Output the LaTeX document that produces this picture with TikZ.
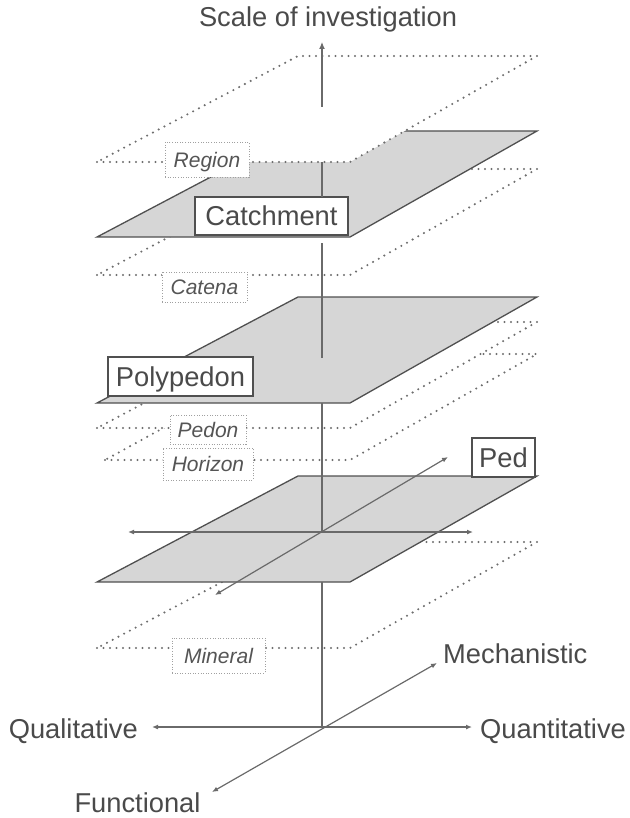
\documentclass[tikz,border=0pt]{standalone}
\usepackage{fontspec}
\setmainfont{Liberation Sans}
\usetikzlibrary{arrows.meta}
\definecolor{txt}{HTML}{4A4A4A}
\definecolor{smalltxt}{HTML}{555555}
\definecolor{axisc}{HTML}{6A6A6A}
\definecolor{edgec}{HTML}{505050}
\definecolor{planefill}{HTML}{D6D6D6}
\definecolor{dotc}{HTML}{6E6E6E}
\definecolor{boxdot}{HTML}{A0A0A0}
\newcommand{\layerplane}[3][97]{\path[#2] (#1,#3) -- (350,#3) -- (537,#3-106) -- (298,#3-106) -- cycle;}
\begin{document}
\begin{tikzpicture}[x=1pt,y=-1pt,
  solidplane/.style={draw=edgec,line width=1.3pt,fill=planefill,line join=miter},
  dotplane/.style={draw=dotc,fill=white,line width=2.3pt,dash pattern=on 0pt off 6.5pt,line cap=round},
  axisline/.style={draw=axisc,line width=1.2pt},
  onetip/.style={-{Latex[length=7pt,width=6pt]}},
  twotips/.style={{Latex[length=6pt,width=5pt]}-{Latex[length=6pt,width=5pt]}},
  bigtext/.style={font=\fontsize{27.3}{32}\selectfont,text=txt,inner sep=0pt},
  bigbox/.style={draw=edgec,line width=1.3pt,fill=white,inner sep=0pt,
    font=\fontsize{27.3}{32}\selectfont,text=txt,text height=19.6pt,text depth=0pt},
  smallbox/.style={draw=boxdot,line width=1pt,dash pattern=on 1pt off 1.6pt,fill=white,inner sep=0pt,
    font=\fontsize{21}{25}\selectfont\itshape,text=smalltxt,text height=15pt,text depth=0pt}
]
\useasboundingbox (0,0) rectangle (629,818);

% planes, bottom to top
\layerplane{dotplane}{648}
\layerplane{solidplane}{582}
\coordinate (pl) at (128,532);
\coordinate (pr) at (473,532);
\coordinate (pf) at (215,595);
\coordinate (pb) at (448,457);
\draw[axisline,twotips] (pl) -- (pr);
\draw[axisline,twotips] (pf) -- (pb);
\layerplane[105]{dotplane}{460}
\layerplane{dotplane}{428}
\layerplane{solidplane}{403}
\layerplane{dotplane}{275}
\layerplane{solidplane}{237}
\layerplane{dotplane}{162}

% labels
\node[smallbox,minimum width=84pt,minimum height=35pt] (region) at (207,160) {Region};
\node[bigbox,minimum width=153pt,minimum height=38pt] (catchment) at (271.5,216) {Catchment};
\node[smallbox,minimum width=85pt,minimum height=30pt] (catena) at (204.5,287) {Catena};
\node[bigbox,minimum width=145pt,minimum height=39pt] (polypedon) at (180.5,376.5) {Polypedon};
\node[smallbox,minimum width=76pt,minimum height=29pt] (pedon) at (208,429.5) {Pedon};
\node[smallbox,minimum width=90pt,minimum height=32pt] (horizon) at (208,464) {Horizon};
\node[bigbox,minimum width=63pt,minimum height=39pt] (ped) at (503.5,457.5) {Ped};
\node[smallbox,minimum width=93pt,minimum height=35pt] (mineral) at (218.5,655.5) {Mineral};

% vertical axis, visible pieces
\coordinate (vtop) at (322,42);
\coordinate (v1) at (322,107);
\coordinate (v2) at (322,162);
\coordinate (v3) at (322,197);
\coordinate (v4) at (322,243);
\coordinate (v5) at (322,358);
\coordinate (v6) at (322,403);
\coordinate (v7) at (322,532);
\coordinate (v8) at (322,582);
\coordinate (o) at (322,727);
\draw[axisline,onetip] (v1) -- (vtop);
\draw[axisline] (v2) -- (v3);
\draw[axisline] (v4) -- (v5);
\draw[axisline] (v6) -- (v7);
\draw[axisline] (v8) -- (o);

% bottom axes
\coordinate (ql) at (152,727);
\coordinate (qr) at (472,727);
\coordinate (fu) at (212,792);
\coordinate (me) at (437,663);
\draw[axisline,twotips] (ql) -- (qr);
\draw[axisline,twotips] (fu) -- (me);

% texts
\node[bigtext,anchor=base] (scale) at (328,27) {Scale of investigation};
\node[bigtext,anchor=base east] (qual) at (138,738) {Qualitative};
\node[bigtext,anchor=base west] (quant) at (480,738) {Quantitative};
\node[bigtext,anchor=base west] (mech) at (443,663) {Mechanistic};
\node[bigtext,anchor=base] (func) at (137.5,812) {Functional};
\end{tikzpicture}
\end{document}
